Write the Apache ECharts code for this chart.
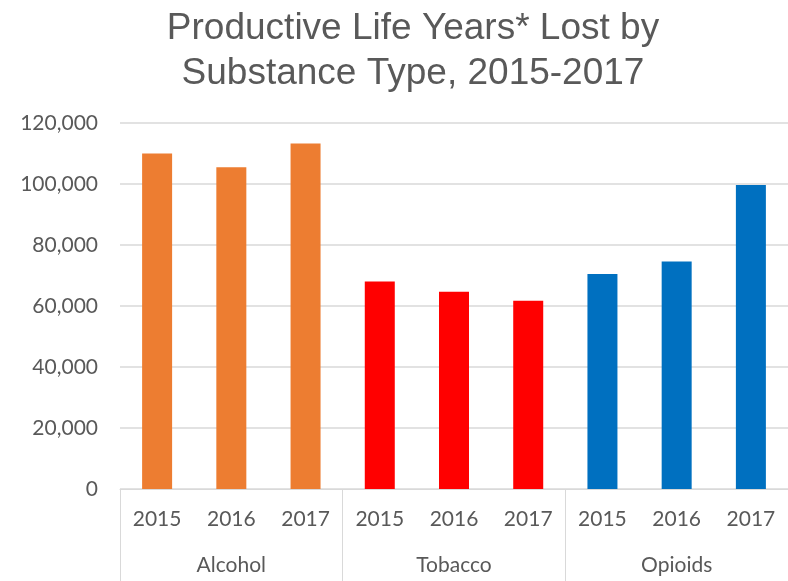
<!DOCTYPE html>
<html>
<head>
<meta charset="utf-8">
<script src="https://cdn.jsdelivr.net/npm/echarts@6/dist/echarts.min.js"></script>
<style>
  html, body { margin: 0; padding: 0; background: #fff; }
  #chart { width: 788px; height: 581px; }
</style>
</head>
<body>
<div id="chart"></div>
<script>
const years = ["2015", "2016", "2017", "2015", "2016", "2017", "2015", "2016", "2017"];
const groups = ["Alcohol", "Tobacco", "Opioids"];
const groupColors = ["#ED7D31", "#FF0000", "#0070C0"];
const yearsLost = [110000, 105500, 113300, 68000, 64700, 61700, 70500, 74600, 99700];
const yTicks = [0, 20000, 40000, 60000, 80000, 100000, 120000];

const grey = "#595959";
const lineGrey = "#d9d9d9";

const chart = echarts.init(document.getElementById("chart"), null, { renderer: "canvas" });

const option = {
  animation: false,
  title: {
    text: "Productive Life Years* Lost by\nSubstance Type, 2015-2017",
    left: 408,
    top: 1,
    textAlign: "center",
    textStyle: {
      fontFamily: "Liberation Sans",
      fontWeight: "normal",
      fontSize: 37,
      lineHeight: 45,
      color: grey,
    },
  },
  grid: {
    left: 120,
    right: -13,
    top: 123,
    bottom: 92,
  },
  xAxis: [
    {
      type: "category",
      data: years,
      position: "bottom",
      axisLine: { show: true, lineStyle: { color: lineGrey, width: 1 } },
      axisTick: { show: false },
      axisLabel: {
        margin: 20,
        color: grey,
        fontFamily: "Lato",
        fontSize: 21,
      },
    },
    {
      type: "category",
      data: groups,
      position: "bottom",
      axisLine: { show: false },
      axisTick: { show: true, length: 92, lineStyle: { color: lineGrey, width: 1 } },
      axisLabel: {
        margin: 66,
        color: grey,
        fontFamily: "Lato",
        fontSize: 21,
      },
    },
  ],
  yAxis: {
    type: "value",
    min: 0,
    max: yTicks[yTicks.length - 1],
    interval: yTicks[1] - yTicks[0],
    axisLine: { show: false },
    axisTick: { show: false },
    splitLine: { lineStyle: { color: lineGrey, width: 1.5 } },
    axisLabel: {
      margin: 22,
      color: grey,
      fontFamily: "Lato",
      fontSize: 21,
      formatter: (v) => v.toLocaleString("en-US"),
    },
  },
  series: [
    {
      type: "bar",
      xAxisIndex: 0,
      barWidth: 30,
      data: yearsLost.map((v, i) => ({
        value: v,
        itemStyle: { color: groupColors[Math.floor(i / 3)] },
      })),
    },
  ],
};

chart.setOption(option);
</script>
</body>
</html>
